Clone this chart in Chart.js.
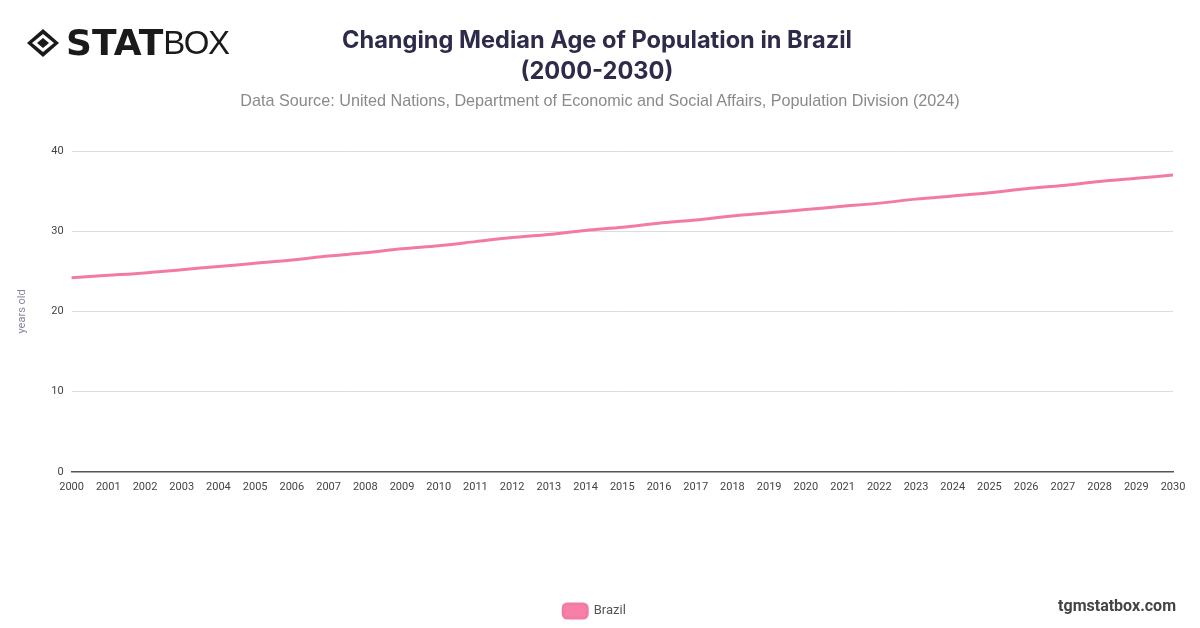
<!DOCTYPE html>
<html>
<head>
<meta charset="utf-8">
<script src="https://cdn.jsdelivr.net/npm/chart.js@4.4.1/dist/chart.umd.min.js"></script>
<style>
  html, body { margin: 0; padding: 0; background: #fff; }
  #wrap { position: relative; width: 1200px; height: 628px; overflow: hidden; font-family: Roboto, "Liberation Sans", sans-serif; }
  #chart { position: absolute; left: 0; top: 0; }
  .logo { position: absolute; left: 26px; top: 22px; display: flex; align-items: center; }
  .logo .stat { font-family: "DejaVu Sans", sans-serif; font-weight: 900; font-size: 36px; letter-spacing: 0px; color: #1a1a1a; margin-left: 6px; }
  .logo .box { font-family: "Liberation Sans", sans-serif; font-weight: 300; font-size: 33px; color: #1a1a1a; letter-spacing: -1.5px; }
  .title { position: absolute; left: 0; width: 1194px; top: 24px; text-align: center; font-family: Inter, sans-serif; font-weight: 700; font-size: 23.6px; line-height: 31px; color: #2e2b4a; }
  .subtitle { position: absolute; left: 0; width: 1200px; top: 91px; text-align: center; font-family: "Liberation Sans", sans-serif; font-size: 16.2px; color: #8a8a8a; }
  .brand { position: absolute; right: 24px; top: 596px; font-family: Roboto, sans-serif; font-weight: 700; font-size: 16px; color: #444; }
</style>
</head>
<body>
<div id="wrap">
  <canvas id="chart" width="1200" height="628"></canvas>
  <div class="logo">
    <svg width="34" height="30" viewBox="0 0 34 30">
      <polygon points="17,1 33,15 17,29 1,15" fill="#1a1a1a"/>
      <polygon points="17,6 28,15 17,24 6,15" fill="#fff"/>
      <polygon points="17,10 23,15 17,20 11,15" fill="#1a1a1a"/>
    </svg>
    <span class="stat">STAT</span><span class="box">BOX</span>
  </div>
  <div class="title">Changing Median Age of Population in Brazil<br>(2000-2030)</div>
  <div class="subtitle">Data Source: United Nations, Department of Economic and Social Affairs, Population Division (2024)</div>
  <div class="brand">tgmstatbox.com</div>
</div>
<script>
const years = ['2000', '2001', '2002', '2003', '2004', '2005', '2006', '2007', '2008', '2009', '2010',
    '2011', '2012', '2013', '2014', '2015', '2016', '2017', '2018', '2019', '2020',
    '2021', '2022', '2023', '2024', '2025', '2026', '2027', '2028', '2029', '2030'];
const brazilMedianAge = [24.2, 24.5, 24.8, 25.2, 25.6, 26.0, 26.4, 26.9, 27.3, 27.8, 28.2,
    28.7, 29.2, 29.6, 30.1, 30.5, 31.0, 31.4, 31.9, 32.3, 32.7,
    33.1, 33.5, 34.0, 34.4, 34.8, 35.3, 35.7, 36.2, 36.6, 37.0];
const yTicks = [0, 10, 20, 30, 40];
const seriesName = 'Brazil';
const axisTitle = 'years old';

const ctx = document.getElementById('chart');
const medianAgeChart = new Chart(ctx, {
    type: 'line',
    data: {
        labels: years,
        datasets: [{
            label: seriesName,
            data: brazilMedianAge,
            borderColor: '#f27ba5',
            backgroundColor: '#f77fa8',
            borderWidth: 3,
            pointRadius: 0,
            tension: 0.3
        }]
    },
    options: {
        responsive: false,
        animation: false,
        layout: { padding: { top: 151, left: 16, right: 27, bottom: 0 } },
        plugins: {
            legend: {
                position: 'bottom',
                labels: {
                    boxWidth: 24,
                    boxHeight: 14,
                    useBorderRadius: true,
                    borderRadius: 4,
                    color: '#555',
                    font: { family: 'Roboto', size: 13 },
                    padding: 10
                }
            },
            tooltip: { enabled: false }
        },
        scales: {
            x: {
                grid: { display: false },
                border: { color: '#555', width: 1.5 },
                ticks: {
                    autoSkip: false,
                    maxRotation: 0,
                    color: '#444',
                    font: { family: 'Roboto', size: 11 },
                    padding: 1
                },
                afterFit: (scale) => { scale.height += 99; }
            },
            y: {
                min: 0,
                max: 40,
                afterBuildTicks: (scale) => { scale.ticks = yTicks.map(v => ({ value: v })); },
                grid: { color: '#dcdcdc', drawTicks: false },
                border: { display: false },
                ticks: {
                    color: '#444',
                    font: { family: 'Roboto', size: 11 },
                    padding: 8
                },
                title: {
                    display: true,
                    text: axisTitle,
                    color: '#8a86a0',
                    font: { family: 'Roboto', size: 11 },
                    padding: { top: 0, bottom: 14 }
                }
            }
        }
    }
});
</script>
</body>
</html>
